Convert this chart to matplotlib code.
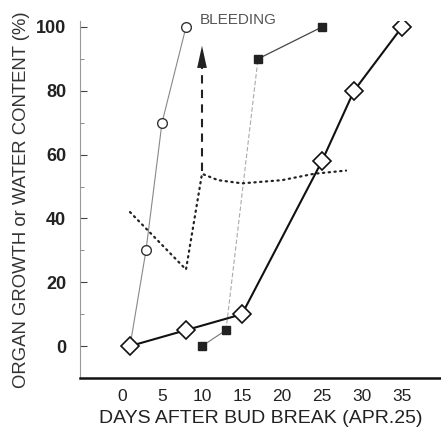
import matplotlib
matplotlib.use("Agg")
import matplotlib.pyplot as plt
from matplotlib.ticker import MultipleLocator

plt.rcParams['font.family'] = ['Liberation Sans', 'DejaVu Sans']

# Data
diamond_x = [1, 8, 15, 25, 29, 35]
diamond_y = [0, 5, 10, 58, 80, 100]

circle_x = [3, 5, 8]
circle_y = [30, 70, 100]
circle_start = (1, 0)

square_x = [10, 13, 17, 25]
square_y = [0, 5, 90, 100]

water_x = [1, 8, 10, 12, 15, 20, 24, 28]
water_y = [42, 24, 54, 52, 51, 52, 54, 55]

arrow_x = 10
arrow_from = 55
arrow_to = 95
bleeding_label = "BLEEDING"

xticks = [0, 5, 10, 15, 20, 25, 30, 35]
yticks = [0, 20, 40, 60, 80, 100]
xlabel = "DAYS AFTER BUD BREAK (APR.25)"
ylabel = "ORGAN GROWTH or WATER CONTENT (%)"

fig = plt.figure(figsize=(4.41, 4.34), dpi=100)
ax = fig.add_axes([80/441, 1 - 378/434, 361/441, (378 - 20.6)/434])
ax.set_xlim(-5.25, 39.875)
ax.set_ylim(-10, 102)

# circle series (thin gray line starting from first diamond)
ax.plot([circle_start[0]] + circle_x, [circle_start[1]] + circle_y,
        color='#888888', lw=0.8, zorder=2)
ax.plot(circle_x, circle_y, ls='none', marker='o', ms=7, mfc='white',
        mec='#333333', mew=1.0, zorder=4)

# square series
ax.plot(square_x[:2], square_y[:2], color='#777777', lw=0.8, zorder=2)
ax.plot(square_x[1:3], square_y[1:3], color='#aaaaaa', lw=0.8, ls=(0, (4, 2)), zorder=2)
ax.plot(square_x[2:], square_y[2:], color='#444444', lw=0.9, zorder=2)
ax.plot(square_x, square_y, ls='none', marker='s', ms=6, mfc='#222222',
        mec='#222222', zorder=4)

# water content dotted
ax.plot(water_x, water_y, color='#222222', lw=1.6, ls=(0, (0.6, 2.0)),
        dash_capstyle='round', zorder=3)

# diamond series
ax.plot(diamond_x, diamond_y, color='#111111', lw=1.5, marker='D', ms=9,
        mfc='white', mec='#111111', mew=1.2, zorder=5)

# bleeding arrow
ax.plot([arrow_x, arrow_x], [arrow_from, arrow_to - 7], color='#222222',
        lw=1.5, ls=(0, (4, 3)), zorder=3)
ax.annotate('', xy=(arrow_x, arrow_to), xytext=(arrow_x, arrow_to - 8),
            arrowprops=dict(arrowstyle='-|>,head_width=0.35,head_length=1.6',
                            color='#222222', lw=0), zorder=3)
ax.text(arrow_x - 0.3, 102.3, bleeding_label, fontsize=11, color='#555555',
        ha='left', va='center', clip_on=False)

# axes styling
for s in ['top', 'right']:
    ax.spines[s].set_visible(False)
ax.spines['left'].set_color('#999999')
ax.spines['left'].set_linewidth(0.8)
ax.spines['bottom'].set_color('#111111')
ax.spines['bottom'].set_linewidth(1.8)

ax.set_xticks(xticks)
ax.set_yticks(yticks)
ax.yaxis.set_minor_locator(MultipleLocator(10))
ax.tick_params(axis='x', length=0, labelsize=12.5, pad=8, colors='#222222')
ax.tick_params(axis='y', which='major', direction='in', length=5, width=0.8,
               labelsize=13, colors='#444444', labelcolor='#222222', pad=10)
ax.tick_params(axis='y', which='minor', direction='in', length=3, width=0.6,
               colors='#777777')
for lbl in ax.get_yticklabels():
    lbl.set_fontweight('bold')

ax.set_xlabel(xlabel, fontsize=14, color='#222222', labelpad=4)
ax.set_ylabel(ylabel, fontsize=13.3, color='#333333', labelpad=4)

fig.savefig("out.png", dpi=100, facecolor='white')
